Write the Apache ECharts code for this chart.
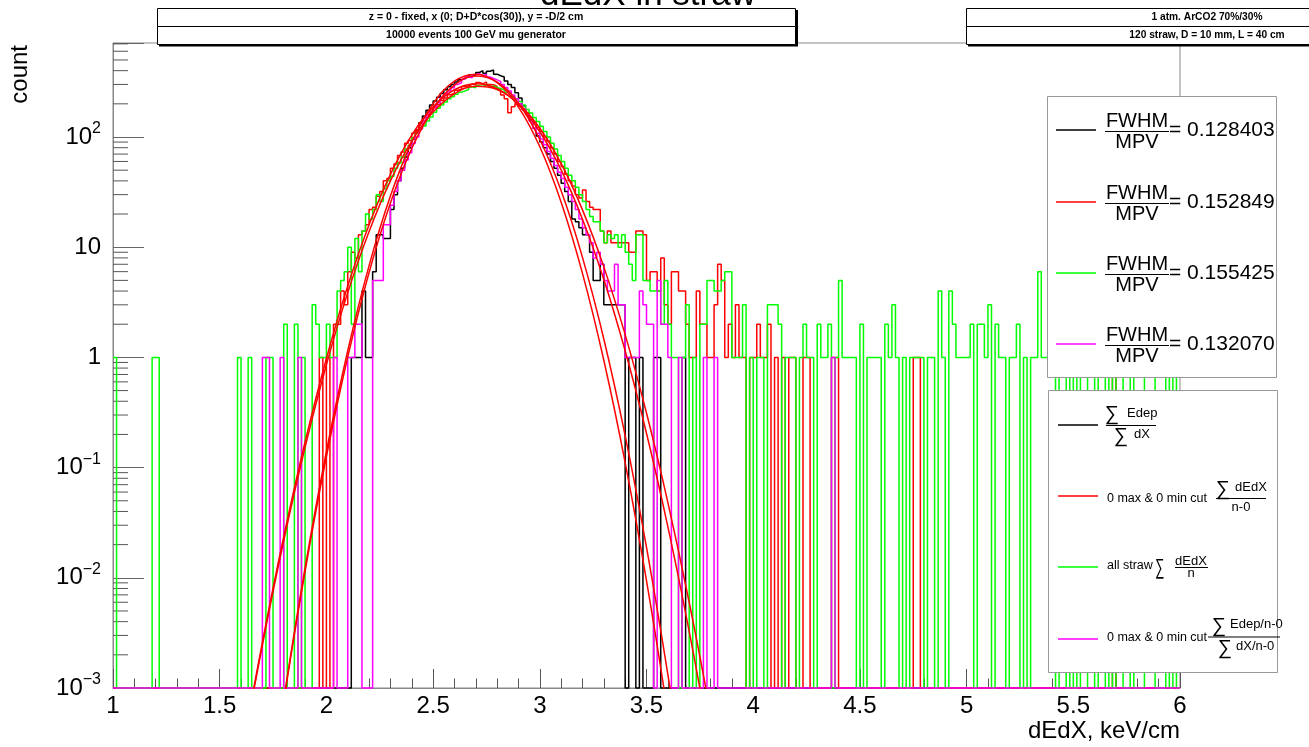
<!DOCTYPE html>
<html><head><meta charset="utf-8">
<script src="https://cdn.jsdelivr.net/npm/echarts@6/dist/echarts.min.js"></script>
<style>html,body{margin:0;padding:0;background:#fff}#c{width:1309px;height:747px}</style>
</head><body><div id="c"></div><script>
// ---- axis / binning ----
const X_MIN = 1, X_MAX = 6, BIN_W = 1 / 60;
const Y_MIN = 0.001, Y_MAX = 713;
const X_TICK_STEP = 0.5;

// ---- histogram bin counts (300 bins, 1.0 .. 6.0) ----
const countsBlack = [
0,0,0,0,0,0,0,0,0,0,0,0,0,0,0,0,0,0,0,0,0,0,0,0,0,0,0,0,0,0,
0,0,0,0,0,0,0,0,0,0,0,0,0,0,0,0,0,0,0,0,0,0,0,0,0,0,0,0,0,0,
0,0,0,0,0,0,0,1,1,1,4,1,1,6,13,13,12,12,22,30,40,52,66,80,96,115,135,155,175,195,
212,230,248,268,286,300,316,330,342,352,368,362,385,400,378,395,405,372,360,350,322,300,282,252,226,192,166,142,120,102,
90,80,70,60,52,45,38,32,26,18,17,15,13,13,9,5,5,7,3,3,3,3,3,3,0,1,1,0,1,0,
0,0,1,1,0,0,0,0,0,0,1,0,0,0,0,0,0,0,0,0,0,0,0,0,0,0,0,0,0,0,
0,0,0,0,0,0,0,0,0,0,0,0,0,0,0,0,0,0,0,0,0,0,0,0,0,0,0,0,0,0,
0,0,0,0,0,0,0,0,0,0,0,0,0,0,0,0,0,0,0,0,0,0,0,0,0,0,0,0,0,0,
0,0,0,0,0,0,0,0,0,0,0,0,0,0,0,0,0,0,0,0,0,0,0,0,0,0,0,0,0,0,
0,0,0,0,0,0,0,0,0,0,0,0,0,0,0,0,0,0,0,0,0,0,0,0,0,0,0,0,0,0
];
const countsRed = [
0,0,0,0,0,0,0,0,0,0,0,0,0,0,0,0,0,0,0,0,0,0,0,0,0,0,0,0,0,0,
0,0,0,0,0,0,0,0,0,0,0,0,0,0,0,0,0,0,0,0,0,0,0,0,0,0,0,0,1,0,
1,0,2,2,4,3,6,9,8,13,14,16,22,23,29,32,40,42,52,57,68,73,88,93,108,116,133,141,160,168,
185,196,214,226,242,250,266,272,287,290,302,298,312,304,316,300,298,288,276,240,222,166,188,200,190,178,165,150,136,122,
112,100,92,80,70,60,54,46,40,36,30,28,33,26,23,22,22,14,11,14,11,11,11,11,11,9,9,14,14,13,
5,6,6,4,8,3,2,6,6,4,4,2,1,1,4,2,2,1,1,3,7,5,1,2,1,3,1,1,0,1,
1,2,1,1,2,0,1,0,1,0,1,1,0,0,1,1,0,0,0,0,0,0,1,1,0,0,0,0,0,0,
0,0,0,0,0,0,0,0,0,0,0,0,0,0,0,1,1,0,0,0,0,0,0,0,0,0,0,0,0,0,
0,0,0,0,0,0,0,0,0,0,0,0,0,0,0,0,0,0,0,0,0,0,0,0,0,0,0,0,0,0,
0,0,0,0,0,0,0,0,0,0,0,1,0,0,0,0,0,0,0,0,0,0,0,0,0,0,0,0,0,0
];
const countsGreen = [
1,0,0,0,0,0,0,0,0,0,0,1,1,0,0,0,0,0,0,0,0,0,0,0,0,0,0,0,0,0,
0,0,0,0,0,1,0,0,1,0,0,0,0,1,1,0,0,0,2,0,0,2,0,1,0,0,3,2,1,1,
2,1,1,4,5,6,10,2,12,6,14,20,18,22,30,26,34,40,44,52,58,66,78,84,98,108,118,126,140,152,
168,182,195,208,222,232,244,255,262,270,285,280,292,288,296,285,290,282,275,268,255,248,232,220,210,195,178,165,150,138,
125,112,100,88,78,68,60,52,45,40,35,30,26,22,19,17,17,14,11,13,12,13,10,13,9,7,5,13,13,5,
5,4,4,4,2,5,2,1,1,0,1,3,0,1,0,2,2,5,5,4,4,5,6,6,1,1,1,3,0,1,
0,1,1,0,3,3,3,2,0,1,1,1,0,1,2,1,1,0,2,1,1,2,0,1,5,1,1,1,1,0,
2,0,1,1,1,1,0,2,1,3,1,0,1,0,1,1,1,1,0,1,1,0,4,1,0,4,2,1,1,1,
1,2,0,2,2,1,3,0,2,1,1,0,1,1,2,0,1,0,1,1,6,1,1,4,1,0,1,1,0,2,
0,1,0,0,1,1,0,1,2,0,1,0,1,1,0,0,1,0,0,0,1,2,1,0,0,0,1,0,1,0
];
const countsMagenta = [
0,0,0,0,0,0,0,0,0,0,0,0,0,0,0,0,0,0,0,0,0,0,0,0,0,0,0,0,0,0,
0,0,0,0,0,0,0,0,0,0,0,0,1,1,0,0,0,1,0,0,0,0,1,0,0,0,0,0,0,0,
0,0,1,0,0,0,1,1,2,2,0,0,0,5,5,5,16,16,24,32,40,50,62,72,88,100,118,140,155,170,
185,205,228,245,262,280,300,310,335,350,345,368,375,360,372,350,340,330,320,300,282,262,240,222,200,180,160,140,120,108,
96,85,74,64,55,48,42,35,30,26,22,18,15,13,11,8,9,7,5,4,4,7,3,3,1,1,1,1,4,3,
2,2,0,5,2,2,1,0,0,1,0,0,0,0,0,0,1,0,0,1,0,0,0,0,0,0,0,0,0,0,
0,0,0,0,0,0,0,0,0,0,0,0,0,0,0,0,0,0,0,0,0,0,1,0,0,0,0,0,0,0,
0,0,0,0,0,0,0,0,0,0,0,0,0,0,0,0,0,0,0,0,0,0,0,0,0,0,0,0,0,0,
0,0,0,0,0,0,0,0,0,0,0,0,0,0,0,0,0,0,0,0,0,0,0,0,0,0,0,0,0,0,
0,0,0,0,0,0,0,0,0,0,0,0,0,0,0,0,0,0,0,0,0,0,0,0,0,0,0,0,0,0
];

// ---- fit curves, points [x, count] ----
const fitBlack = [[1.7,3.5e-5],[1.8,7.8e-4],[1.9,0.0123],[2.0,0.140],[2.1,1.15],[2.2,6.81],[2.3,29.1],[2.4,89.8],[2.5,200],[2.6,321],[2.7,372],[2.8,311],[2.9,187],[3.0,81.5],[3.1,25.6],[3.2,5.79],[3.3,0.943],[3.4,0.111],[3.5,0.00944],[3.6,5.8e-4],[3.7,2.6e-5]];
const fitMagenta = [[1.7,3.6e-5],[1.8,7.55e-4],[1.9,0.0114],[2.0,0.1256],[2.1,1.009],[2.2,5.90],[2.3,25.2],[2.4,78.6],[2.5,178.5],[2.6,295.8],[2.7,357.4],[2.8,315],[2.9,202.5],[3.0,94.95],[3.1,32.5],[3.2,8.09],[3.3,1.47],[3.4,0.195],[3.5,0.0189],[3.6,1.33e-3],[3.7,6.9e-5]];
const fitRed = [[1.5,1.6e-5],[1.6,2.27e-4],[1.7,2.6e-3],[1.8,0.0236],[1.9,0.1706],[2.0,0.977],[2.1,4.44],[2.2,16.0],[2.3,45.8],[2.4,104.1],[2.5,187.7],[2.6,268.5],[2.7,305],[2.8,274.8],[2.9,196.6],[3.0,111.6],[3.1,50.3],[3.2,17.97],[3.3,5.10],[3.4,1.148],[3.5,0.205],[3.6,0.0291],[3.7,3.27e-3],[3.8,2.9e-4],[3.9,2.1e-5]];
const fitGreen = [[1.5,1.6e-5],[1.6,2.2e-4],[1.7,2.44e-3],[1.8,0.0216],[1.9,0.1524],[2.0,0.859],[2.1,3.87],[2.2,13.9],[2.3,40.0],[2.4,91.8],[2.5,168.4],[2.6,246.7],[2.7,288.7],[2.8,269.9],[2.9,201.6],[3.0,120.2],[3.1,57.3],[3.2,21.8],[3.3,6.63],[3.4,1.61],[3.5,0.3126],[3.6,0.0484],[3.7,6.0e-3],[3.8,5.9e-4],[3.9,4.7e-5]];

// ---- texts ----
const fwhmValues = ['0.128403', '0.152849', '0.155425', '0.132070'];
const seriesColors = ['#000000', '#ff0000', '#00ff00', '#ff00ff'];
const titleText = 'dEdX in straw';
const infoLeft = ['z = 0 - fixed, x (0; D+D*cos(30)), y = -D/2 cm', '10000 events 100 GeV mu generator'];
const infoRight = ['1 atm. ArCO2 70%/30%', '120 straw, D = 10 mm, L = 40 cm'];
const xTitle = 'dEdX, keV/cm';
const yTitle = 'count';

const F = "'Liberation Sans', Arial, Helvetica, sans-serif";

function histPoints(counts) {
  const pts = [];
  for (let i = 0; i < counts.length; i++) {
    pts.push([X_MIN + i * BIN_W, counts[i] > 0 ? counts[i] : Y_MIN]);
  }
  const last = counts[counts.length - 1];
  pts.push([X_MIN + counts.length * BIN_W, last > 0 ? last : Y_MIN]);
  return pts;
}
function histSeries(counts, color) {
  return { type: 'line', step: 'end', data: histPoints(counts), symbol: 'none', clip: false,
    lineStyle: { color: color, width: 1.5 }, animation: false, silent: true, z: 2 };
}
function fitSeries(pts) {
  return { type: 'line', data: pts, symbol: 'none', smooth: 0.4, clip: true,
    lineStyle: { color: '#ff0000', width: 1.5 }, animation: false, silent: true, z: 3 };
}

// y minor ticks (ROOT style 2..9 per decade)
const minorTicks = [];
for (let e = -3; e <= 2; e++) for (let m = 2; m <= 9; m++) {
  const v = m * Math.pow(10, e);
  if (v < Y_MAX) minorTicks.push([X_MIN, v]);
}

function T(x, y, text, size, align, st, extra) {
  return Object.assign({ type: 'text', x: x, y: y, z: 100, silent: true,
    style: Object.assign({ text: text, fontSize: size, fontFamily: F, fill: '#000',
      align: align || 'left', verticalAlign: 'middle' }, st || {}) }, extra || {});
}
function L(x1, y1, x2, y2, color, w) {
  return { type: 'line', z: 100, silent: true, shape: { x1: x1, y1: y1, x2: x2, y2: y2 },
    style: { stroke: color || '#000', lineWidth: w || 1 } };
}
function R(x, y, w, h, stroke) {
  return { type: 'rect', z: 99, silent: true, shape: { x: x, y: y, width: w, height: h },
    style: { fill: '#fff', stroke: stroke || '#000', lineWidth: 1 } };
}

const g = [];
// title (partly cut off at top)
g.push(T(648, -4.5, titleText, 35, 'center'));
// info boxes
const bold = { fontWeight: 'bold' };
g.push(R(157.5, 8.5, 638, 18), R(157.5, 26.5, 638, 18));
g.push(L(797, 10, 797, 46, '#000', 2), L(159, 45.5, 798, 45.5, '#000', 2));
g.push(T(476, 17.5, infoLeft[0], 10.5, 'center', bold), T(476, 35.5, infoLeft[1], 10.5, 'center', bold));
g.push(R(966.5, 8.5, 500, 18), R(966.5, 26.5, 500, 18));
g.push(L(968, 45.5, 1309, 45.5, '#000', 2));
g.push(T(1207, 17.5, infoRight[0], 10.2, 'center', bold), T(1207, 35.5, infoRight[1], 10.2, 'center', bold));

// legend 1
g.push(R(1047.5, 96.5, 229, 281, '#999'));
const cy1 = [130, 202, 273, 344];
for (let k = 0; k < 4; k++) {
  const c = cy1[k];
  g.push(L(1056, c, 1096, c, seriesColors[k], 1.5));
  g.push(T(1137, c - 9, 'FWHM', 20, 'center'));
  g.push(L(1105, c + 1.5, 1169, c + 1.5, '#000', 1));
  g.push(T(1137, c + 12.5, 'MPV', 20, 'center'));
  g.push(T(1169, c + 0.5, '= ' + fwhmValues[k], 21, 'left'));
}
// legend 2
g.push(R(1048.5, 390.5, 229, 282, '#999'));
const cy2 = [425, 496, 567, 639];
for (let k = 0; k < 4; k++) g.push(L(1058, cy2[k], 1098, cy2[k], seriesColors[k], 1.5));
// entry 1
g.push(T(1112, 414, '\u2211', 20, 'center'), T(1127, 413, 'Edep', 13));
g.push(L(1106, 425.5, 1156, 425.5));
g.push(T(1121, 436, '\u2211', 20, 'center'), T(1134, 434, 'dX', 13));
// entry 2
g.push(T(1107, 499, '0 max & 0 min cut', 12.5));
g.push(T(1223, 489, '\u2211', 20, 'center'), T(1235, 487.5, 'dEdX', 13));
g.push(L(1216, 498.5, 1266, 498.5));
g.push(T(1241, 507, 'n-0', 13, 'center'));
// entry 3
g.push(T(1107, 566, 'all straw', 12.5));
g.push(T(1160, 568, '\u2211', 13, 'center', null, { scaleY: 1.7 }));
g.push(T(1175, 561, 'dEdX', 13), L(1175, 567.5, 1208, 567.5), T(1191, 573, 'n', 13, 'center'));
// entry 4
g.push(T(1107, 638, '0 max & 0 min cut', 12.5));
g.push(T(1219, 626, '\u2211', 20, 'center'), T(1230, 624, 'Edep/n-0', 13));
g.push(L(1208, 637, 1280, 637));
g.push(T(1225, 648, '\u2211', 20, 'center'), T(1236, 646, 'dX/n-0', 13));

// axis titles
g.push(T(1180, 731, xTitle, 24, 'right'));
g.push(T(20, 45, yTitle, 24, 'right', null, { rotation: Math.PI / 2 }));

const chart = echarts.init(document.getElementById('c'));
chart.setOption({
  animation: false,
  backgroundColor: '#fff',
  grid: { left: 113, right: 129, top: 43, bottom: 59, show: true, borderColor: '#888', borderWidth: 1, backgroundColor: 'transparent' },
  xAxis: {
    type: 'value', min: X_MIN, max: X_MAX, interval: X_TICK_STEP,
    axisLine: { show: true, lineStyle: { color: '#888' } },
    axisTick: { show: true, inside: true, length: 19, lineStyle: { color: '#555' } },
    minorTick: { show: true, splitNumber: 5, length: 9.5, lineStyle: { color: '#555' } },
    splitLine: { show: false },
    axisLabel: { fontSize: 24, fontFamily: F, color: '#000', margin: 6,
      formatter: v => String(Math.round(v * 10) / 10) }
  },
  yAxis: {
    type: 'log', logBase: 10, min: Y_MIN, max: Y_MAX,
    axisLine: { show: true, lineStyle: { color: '#888' } },
    axisTick: { show: true, inside: true, length: 31, lineStyle: { color: '#666' } },
    splitLine: { show: false },
    axisLabel: {
      fontSize: 24, fontFamily: F, color: '#000', margin: 12, lineHeight: 32,
      formatter: v => {
        const e = Math.round(Math.log10(v));
        if (Math.abs(v / Math.pow(10, e) - 1) > 1e-6) return '';
        if (e === 0) return '1';
        if (e === 1) return '10';
        return '10{s|' + (e < 0 ? '\u2212' + (-e) : e) + '}';
      },
      rich: { s: { fontSize: 16, fontFamily: F, color: '#000', verticalAlign: 'top', lineHeight: 16 } }
    }
  },
  series: [
    histSeries(countsBlack, seriesColors[0]),
    histSeries(countsRed, seriesColors[1]),
    histSeries(countsGreen, seriesColors[2]),
    histSeries(countsMagenta, seriesColors[3]),
    fitSeries(fitBlack), fitSeries(fitRed), fitSeries(fitGreen), fitSeries(fitMagenta),
    { type: 'custom', data: minorTicks, silent: true, z: 1, animation: false,
      renderItem: (params, api) => {
        const p = api.coord([api.value(0), api.value(1)]);
        return { type: 'line', shape: { x1: p[0], y1: p[1], x2: p[0] + 15, y2: p[1] },
          style: { stroke: '#555', lineWidth: 1 } };
      } }
  ],
  graphic: g
});
</script></body></html>
